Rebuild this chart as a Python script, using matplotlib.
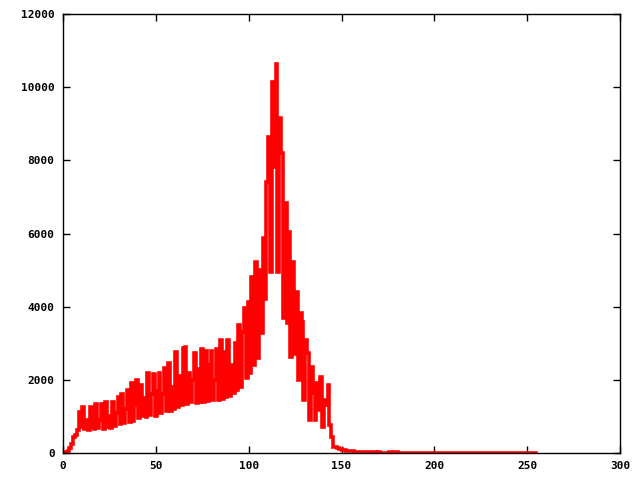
import matplotlib
matplotlib.use('Agg')
import matplotlib.pyplot as plt
import numpy as np

# grey-level histogram, one count per level 0..255
counts_0_39 = [15, 20, 25, 60, 130, 240, 450, 480, 620, 1130,
               700, 1260, 650, 900, 640, 1270, 700, 650, 1330, 680,
               900, 1330, 660, 1400, 700, 1000, 680, 1400, 750, 1100,
               1530, 800, 1600, 820, 1200, 1720, 850, 1900, 880, 1300]
counts_40_79 = [2000, 950, 1860, 1000, 1500, 980, 2180, 1050, 1600, 2150,
                1000, 1700, 2180, 1100, 1600, 2320, 1150, 2460, 1150, 1800,
                1200, 2770, 1250, 2100, 1300, 2870, 2900, 1350, 2200, 1400,
                2000, 2730, 1380, 2300, 1400, 2830, 1400, 2800, 1420, 2400]
counts_80_119 = [2790, 1450, 2000, 2830, 1460, 3090, 1470, 2770, 1540, 3090,
                 1560, 2400, 1650, 3000, 1720, 3500, 1810, 3320, 3960, 2050,
                 4140, 2200, 4820, 2400, 5230, 2600, 5000, 3280, 5870, 4200,
                 7420, 8650, 4960, 10150, 7830, 10630, 4960, 9160, 8200, 3690]
counts_120_159 = [6830, 3550, 6050, 2630, 5230, 2700, 4410, 2000, 3830, 3590,
                  1450, 3090, 2720, 900, 2360, 1640, 900, 1910, 1175, 2090,
                  720, 1450, 1300, 1860, 765, 450, 170, 160, 140, 120,
                  100, 90, 75, 65, 60, 50, 45, 40, 35, 40]
counts_160_199 = [30, 25, 20, 25, 20, 18, 15, 25, 15, 12,
                  20, 10, 12, 10, 8, 10, 20, 8, 6, 15,
                  25, 6, 5, 4, 4, 3, 3, 3, 2, 2,
                  2, 2, 2, 2, 2, 2, 2, 2, 2, 2]
counts_200_255 = [2] * 56

counts = counts_0_39 + counts_40_79 + counts_80_119 + counts_120_159 + counts_160_199 + counts_200_255
levels = np.arange(len(counts))

plt.rcParams['font.family'] = 'DejaVu Sans Mono'
plt.rcParams['font.weight'] = 'bold'
plt.rcParams['font.size'] = 8

fig = plt.figure(figsize=(6.4, 4.8), dpi=100)
ax = fig.add_axes([63 / 640, 27 / 480, 557 / 640, 439 / 480])
ax.plot(levels, counts, color='#ff0000', linewidth=2.6, drawstyle='steps-mid',
        solid_joinstyle='miter')

ax.set_xlim(0, 300)
ax.set_ylim(0, 12000)
ax.set_xticks(np.arange(0, 301, 50))
ax.set_yticks(np.arange(0, 12001, 2000))
ax.tick_params(direction='in', top=True, right=True, length=5, width=1, pad=6)
for lab in ax.get_xticklabels() + ax.get_yticklabels():
    lab.set_fontweight('bold')
for s in ax.spines.values():
    s.set_linewidth(1)

fig.savefig('out.png', dpi=100)
